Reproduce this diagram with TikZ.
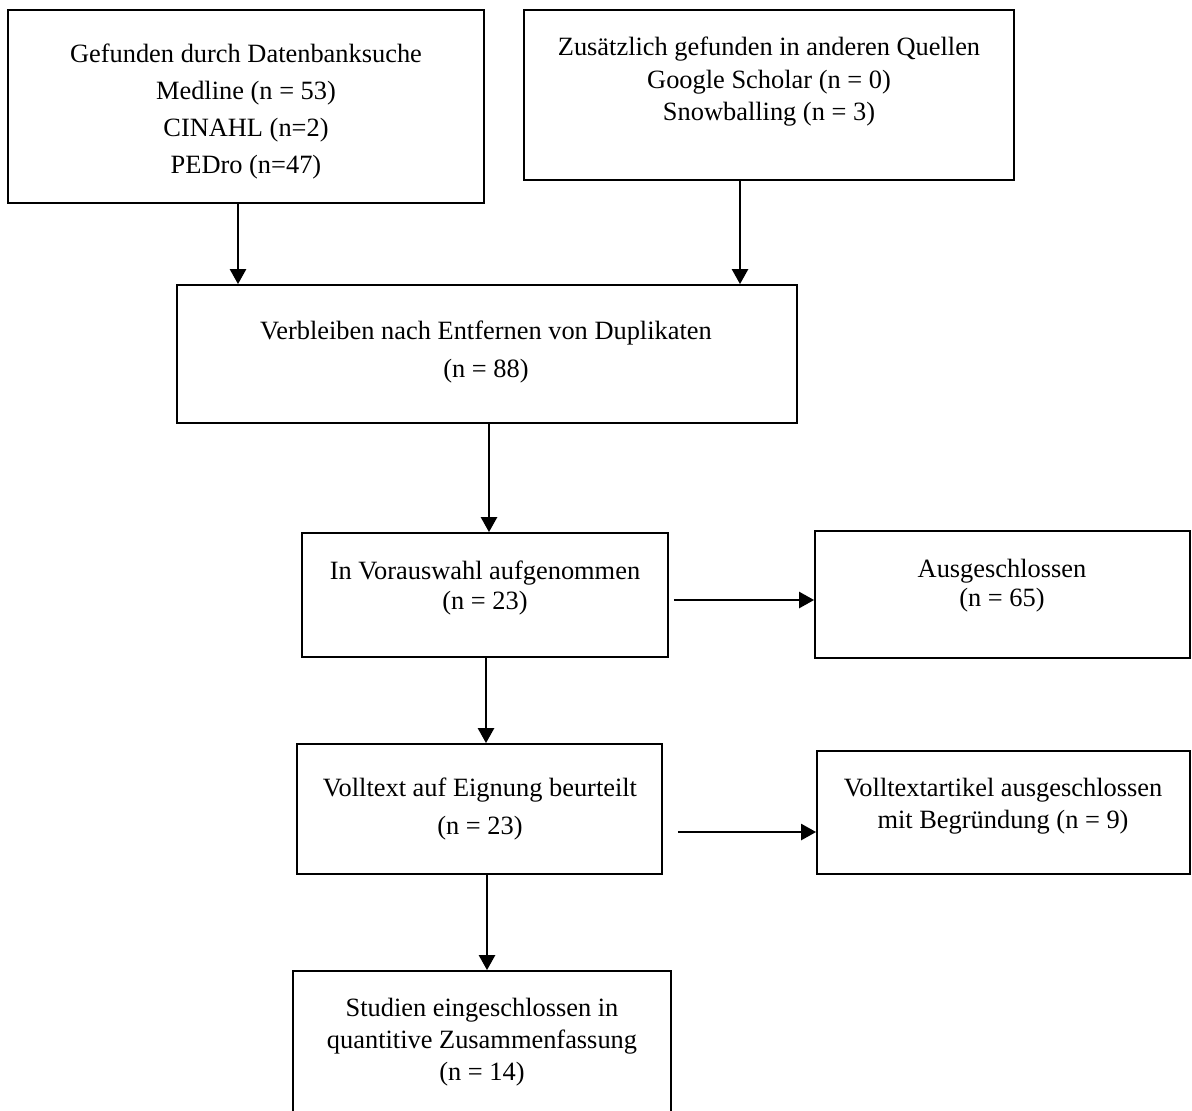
\documentclass[tikz,border=0pt]{standalone}
\usepackage{fontspec}
\setmainfont{Liberation Serif}
\usetikzlibrary{arrows.meta,calc}

\begin{document}
\begin{tikzpicture}[x=0.5pt,y=-0.5pt,
    box/.style={draw, line width=0.9pt, inner sep=0pt},
    txt/.style={anchor=north, align=center, inner sep=0pt, font=\fontsize{13.2}{#1}\selectfont},
    arr/.style={line width=1.25pt, -{Triangle[length=7.5pt,width=8pt]}}]
    \clip (0,0) rectangle (1192,1110);

    % boxes
    \node[box, minimum width=238pt, minimum height=96.5pt] (A) at (246,106.5) {};
    \node[box, minimum width=245pt, minimum height=85pt] (B) at (769,95) {};
    \node[box, minimum width=310pt, minimum height=69pt] (C) at (487,354) {};
    \node[box, minimum width=183pt, minimum height=62pt] (D) at (485,595) {};
    \node[box, minimum width=187.5pt, minimum height=63.5pt] (E) at (1002.5,594.5) {};
    \node[box, minimum width=182.5pt, minimum height=65pt] (F) at (479.5,809) {};
    \node[box, minimum width=186.5pt, minimum height=61.5pt] (G) at (1003.5,812.5) {};
    \node[box, minimum width=189pt, minimum height=79.5pt] (H) at (482,1050.5) {};

    % texts
    \node[txt=18.5] (At) at (246,44) {Gefunden durch Datenbanksuche\\Medline (n = 53)\\CINAHL (n=2)\\PEDro (n=47)};
    \node[txt=16.25] (Bt) at (769,37) {Zusätzlich gefunden in anderen Quellen\\Google Scholar (n = 0)\\Snowballing (n = 3)};
    \node[txt=19] (Ct) at (486,320) {Verbleiben nach Entfernen von Duplikaten\\(n = 88)};
    \node[txt=15] (Dt) at (485,560) {In Vorauswahl aufgenommen\\(n = 23)};
    \node[txt=14.5] (Et) at (1002,559) {Ausgeschlossen\\(n = 65)};
    \node[txt=19] (Ft) at (480,777) {Volltext auf Eignung beurteilt\\(n = 23)};
    \node[txt=16] (Gt) at (1003,778) {Volltextartikel ausgeschlossen\\mit Begründung (n = 9)};
    \node[txt=16] (Ht) at (482,998) {Studien eingeschlossen in\\quantitive Zusammenfassung\\(n = 14)};

    % arrows
    \draw[arr] (238,0 |- A.south) -- (238,0 |- C.north);
    \draw[arr] (740,0 |- B.south) -- (740,0 |- C.north);
    \draw[arr] (489,0 |- C.south) -- (489,0 |- D.north);
    \draw[arr] ($(D.east)+(5,5)$) -- ($(E.west)+(0,5.5)$);
    \draw[arr] (486,0 |- D.south) -- (486,0 |- F.north);
    \draw[arr] ($(F.east)+(15,23)$) -- ($(G.west)+(0,19.5)$);
    \draw[arr] (487,0 |- F.south) -- (487,0 |- H.north);
\end{tikzpicture}
\end{document}
